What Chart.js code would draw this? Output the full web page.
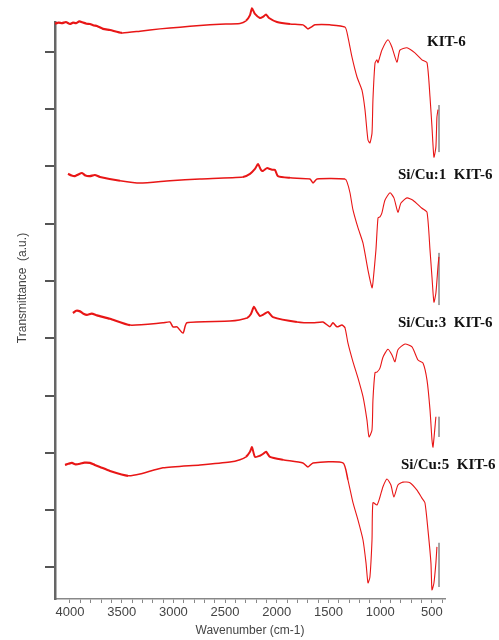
<!DOCTYPE html>
<html>
<head>
<meta charset="utf-8">
<script src="https://cdn.jsdelivr.net/npm/chart.js@4.4.1/dist/chart.umd.min.js"></script>
<style>
  html, body { margin: 0; padding: 0; background: #fff; }
  #wrap { width: 499px; height: 640px; }
</style>
</head>
<body>
<div id="wrap"><canvas id="ftir"></canvas></div>
<script>
// FTIR spectra, stacked (offset transmittance, a.u.)
const kitWn = [4145, 4110, 4077, 4040, 4000, 3970, 3942, 3910, 3874, 3840, 3807, 3770, 3739, 3680, 3613, 3497, 3323, 3130, 2936, 2743, 2549, 2356, 2298, 2259, 2240, 2211, 2163, 2134, 2104, 2075, 1998, 1872, 1747, 1718, 1698, 1669, 1631, 1486, 1340, 1312, 1273, 1224, 1176, 1147, 1118, 1099, 1079, 1070, 1050, 1031, 1021, 983, 925, 886, 838, 809, 741, 664, 596, 547, 518, 499, 480, 461, 451, 441];
const kitT = [94.9, 95.1, 95.0, 95.2, 94.85, 95.1, 95.0, 95.3, 95.1, 94.9, 94.85, 94.6, 94.5, 94.0, 93.8, 93.3, 93.6, 94.0, 94.3, 94.6, 94.8, 94.95, 95.4, 96.4, 97.6, 96.6, 95.9, 96.1, 96.5, 95.9, 95.2, 94.85, 94.7, 94.3, 94.0, 94.3, 94.7, 94.7, 94.3, 92.6, 89.1, 85.6, 83.3, 79.9, 74.6, 74.1, 75.8, 81.6, 88.0, 88.6, 88.1, 90.3, 92.1, 90.8, 88.2, 90.3, 90.7, 89.8, 88.6, 88.1, 82.1, 76.9, 71.6, 73.4, 78.6, 79.9];

const cu1Wn = [4019, 3985, 3952, 3920, 3884, 3850, 3807, 3760, 3710, 3516, 3323, 3033, 2743, 2327, 2259, 2211, 2182, 2153, 2134, 2095, 2066, 2037, 2017, 1989, 1872, 1679, 1650, 1611, 1340, 1321, 1292, 1263, 1215, 1166, 1118, 1079, 1070, 1041, 1021, 1002, 983, 954, 905, 867, 828, 799, 741, 683, 596, 547, 518, 499, 480, 461, 441, 432];
const cu1T = [68.7, 68.4, 68.3, 68.6, 68.85, 68.4, 68.3, 68.5, 68.15, 67.5, 67.1, 67.5, 67.8, 68.15, 68.7, 69.55, 70.4, 69.4, 69.2, 69.7, 69.55, 69.4, 69.4, 68.3, 68.0, 67.8, 67.1, 67.8, 67.8, 67.3, 65.4, 62.4, 59.3, 56.6, 51.9, 48.8, 49.7, 55.4, 61.0, 61.2, 61.9, 64.1, 65.4, 64.5, 62.0, 63.6, 64.5, 64.1, 62.7, 62.0, 55.4, 50.7, 46.3, 47.9, 52.5, 54.2];

const cu3Wn = [3971, 3940, 3903, 3870, 3836, 3790, 3739, 3613, 3420, 3101, 3033, 3004, 2965, 2907, 2869, 2453, 2288, 2250, 2221, 2192, 2163, 2124, 2085, 2037, 1805, 1650, 1553, 1486, 1457, 1418, 1369, 1340, 1312, 1263, 1215, 1166, 1128, 1108, 1079, 1070, 1050, 1031, 1002, 973, 925, 886, 857, 828, 760, 692, 634, 586, 547, 518, 499, 489, 461];
const cu3T = [44.4, 44.8, 44.7, 44.3, 44.1, 44.3, 44.0, 43.4, 42.3, 42.7, 42.85, 41.98, 42.0, 40.9, 42.7, 43.0, 43.55, 44.25, 45.5, 44.6, 43.9, 44.2, 44.6, 43.7, 42.85, 42.7, 42.85, 42.0, 42.7, 42.0, 42.3, 41.8, 39.2, 35.9, 33.1, 29.8, 25.75, 22.8, 24.0, 29.2, 34.0, 34.1, 34.8, 36.7, 38.1, 37.1, 35.9, 38.0, 39.0, 38.5, 36.2, 35.7, 32.7, 27.5, 22.3, 21.0, 26.3];

const cu5Wn = [4048, 4015, 3981, 3945, 3903, 3860, 3807, 3760, 3710, 3613, 3439, 3323, 3101, 2743, 2453, 2356, 2298, 2259, 2240, 2211, 2163, 2134, 2104, 2066, 1940, 1747, 1698, 1650, 1360, 1312, 1263, 1215, 1166, 1137, 1118, 1099, 1079, 1070, 1031, 1002, 973, 934, 896, 867, 828, 780, 712, 644, 596, 567, 538, 509, 499, 480, 461, 451];
const cu5T = [17.9, 18.1, 18.25, 18.0, 18.1, 18.3, 18.25, 17.9, 17.55, 16.85, 16.0, 16.3, 17.4, 17.9, 18.4, 18.8, 19.3, 20.2, 21.0, 19.3, 19.5, 19.8, 20.2, 19.3, 18.8, 18.25, 17.55, 18.25, 18.25, 15.3, 11.3, 8.3, 4.8, 0.8, -2.7, -1.65, 4.8, 11.3, 10.9, 12.3, 14.1, 15.45, 14.4, 12.3, 14.4, 14.9, 14.8, 13.5, 12.1, 11.3, 6.6, 0.8, -3.9, -2.7, 0.8, 3.6];

// grey detector spikes at the low-wavenumber end of each trace
const endWn = 431;
const endTop = [80.7, 54.9, 26.3, 4.3];
const endBottom = [72.5, 45.8, 22.8, -3.4];

const sampleNames = ["KIT-6", "Si/Cu:1  KIT-6", "Si/Cu:3  KIT-6", "Si/Cu:5  KIT-6"];
const labelWn = [547, 828, 828, 799];
const labelT = [91.7, 68.5, 42.7, 17.9];

const xMajor = [4000, 3500, 3000, 2500, 2000, 1500, 1000, 500];
const xMinor = [4000, 3900, 3800, 3700, 3600, 3500, 3400, 3300, 3200, 3100, 3000, 2900, 2800, 2700, 2600, 2500, 2400, 2300, 2200, 2100, 2000, 1900, 1800, 1700, 1600, 1500, 1400, 1300, 1200, 1100, 1000, 900, 800, 700, 600, 500, 400];
const yTicks = [0, 10, 20, 30, 40, 50, 60, 70, 80, 90];

const RED = "rgb(232, 22, 22)";

function zip(xs, ys) {
    return xs.map((x, i) => ({ x: x, y: ys[i] }));
}

// noisy regions of the scan look thicker in the original
function traceWidth(ctx) {
    const w = ctx.p0.parsed.x;
    if (w > 3550) return 2.2;
    if (w > 1950 && w < 2350) return 2;
    if (w > 1350) return 1.5;
    return 1.1;
}

function spectrum(xs, ys) {
    return {
        data: zip(xs, ys),
        borderColor: RED,
        borderWidth: 1.1,
        pointRadius: 0,
        tension: 0.2,
        clip: false,
        segment: { borderWidth: traceWidth }
    };
}

const datasets = [
    spectrum(kitWn, kitT),
    spectrum(cu1Wn, cu1T),
    spectrum(cu3Wn, cu3T),
    spectrum(cu5Wn, cu5T)
];
endTop.forEach((t, i) => {
    datasets.push({
        data: [{ x: endWn, y: t }, { x: endWn, y: endBottom[i] }],
        borderColor: "#9a9a9a",
        borderWidth: 1,
        pointRadius: 0,
        clip: false
    });
});

// sample names and the y title drawn on the canvas
const textPlugin = {
    id: "ftirText",
    afterDatasetsDraw(chart) {
        const c = chart.ctx;
        const xs = chart.scales.x, ys = chart.scales.y;
        c.save();
        c.fillStyle = "#111";
        c.font = "bold 15px 'Liberation Serif', 'Times New Roman', serif";
        c.textAlign = "left";
        c.textBaseline = "middle";
        sampleNames.forEach((name, i) => {
            c.fillText(name, xs.getPixelForValue(labelWn[i]), ys.getPixelForValue(labelT[i]));
        });
        c.fillStyle = "#444";
        c.font = "12px 'Liberation Sans', Arial, sans-serif";
        c.textAlign = "center";
        c.translate(23, 288);
        c.rotate(-Math.PI / 2);
        c.fillText("Transmittance  (a.u.)", 0, 0);
        c.restore();
    }
};

new Chart(document.getElementById("ftir").getContext("2d"), {
    type: "line",
    data: { datasets: datasets },
    options: {
        responsive: true,
        maintainAspectRatio: false,
        animation: false,
        layout: { padding: { left: 45, right: 54, top: 22, bottom: 2 } },
        plugins: {
            legend: { display: false },
            tooltip: { enabled: false }
        },
        scales: {
            x: {
                type: "linear",
                reverse: true,
                min: 373,
                max: 4145,
                afterBuildTicks: s => { s.ticks = xMinor.map(v => ({ value: v })); },
                ticks: {
                    autoSkip: false,
                    maxRotation: 0,
                    padding: 2,
                    color: "#444",
                    font: { family: "'Liberation Sans', Arial, sans-serif", size: 13 },
                    callback: v => xMajor.includes(v) ? String(v) : ""
                },
                grid: { drawOnChartArea: false, tickLength: 4, color: "#888", lineWidth: 1 },
                border: { color: "#888", width: 1.5 },
                title: {
                    display: true,
                    text: "Wavenumber (cm-1)",
                    color: "#444",
                    font: { family: "'Liberation Sans', Arial, sans-serif", size: 12 },
                    padding: { top: 1, bottom: 0 }
                }
            },
            y: {
                min: -5.5,
                max: 95.2,
                afterBuildTicks: s => { s.ticks = yTicks.map(v => ({ value: v })); },
                ticks: { display: false },
                grid: { drawOnChartArea: false, tickLength: 10, color: "#555", lineWidth: 2 },
                border: { color: "#666", width: 2.5 }
            }
        }
    },
    plugins: [textPlugin]
});
</script>
</body>
</html>
